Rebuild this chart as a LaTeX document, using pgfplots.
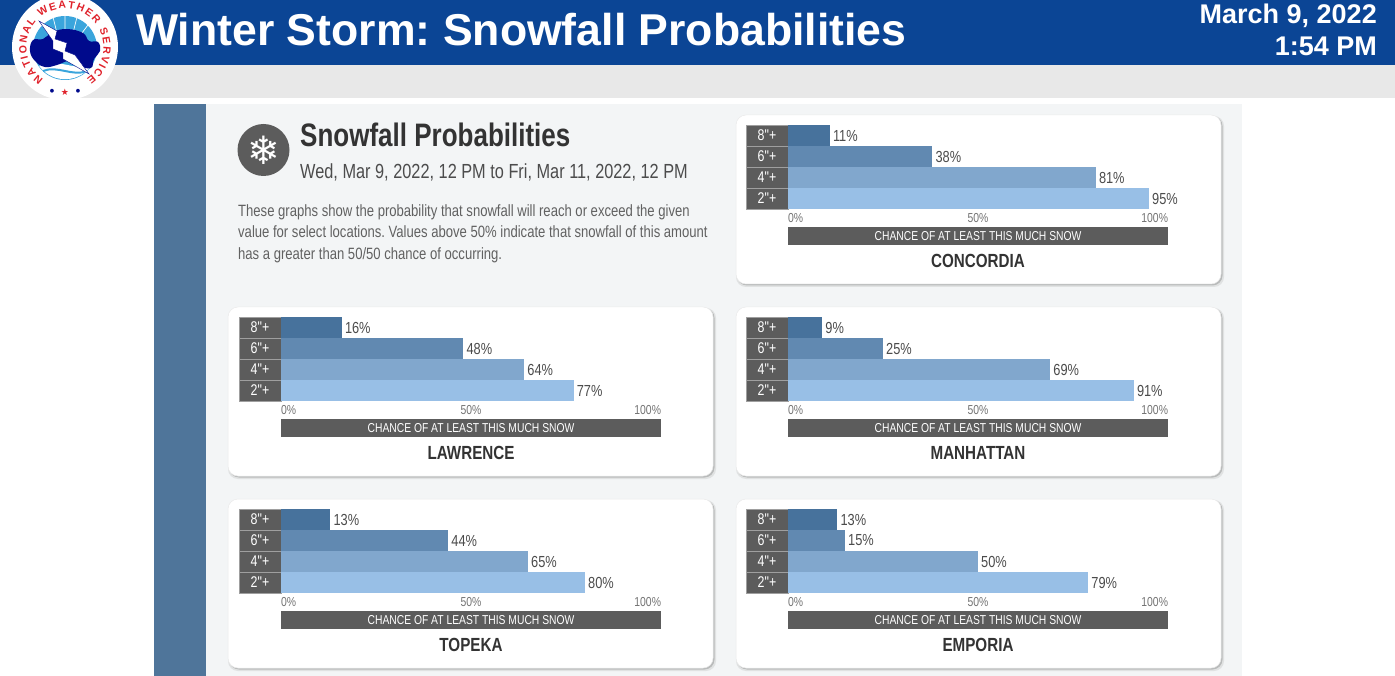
\documentclass[border=0pt]{standalone}
\usepackage{fontspec}
\setmainfont{Liberation Sans}
\newfontfamily\rb[FakeStretch=0.8]{Liberation Sans}
\newfontfamily\djv{DejaVu Sans}
\usepackage{pgfplots}
\pgfplotsset{compat=1.18}
\usetikzlibrary{decorations.text}
\definecolor{hdr}{HTML}{0B4595}
\definecolor{hdrgrey}{HTML}{E8E8E8}
\definecolor{strip}{HTML}{4F759A}
\definecolor{panel}{HTML}{F3F5F6}
\definecolor{boxgrey}{HTML}{5C5C5C}
\definecolor{cEight}{HTML}{47729C}
\definecolor{cSix}{HTML}{6189B1}
\definecolor{cFour}{HTML}{81A7CD}
\definecolor{cTwo}{HTML}{98BFE6}
\definecolor{nwsred}{HTML}{E0222B}
\definecolor{nwsdark}{HTML}{000A8C}
\definecolor{nwslight}{HTML}{3AA5DC}
\pgfplotsset{
  snowchart/.style={
    at={(#1)}, anchor=north west,
    scale only axis, width=380pt, height=84pt,
    xbar, bar width=21pt, bar shift=0pt,
    xmin=0, xmax=100, ymin=-0.5, ymax=3.5,
    ytick={0,1,2,3}, yticklabels={2"+,4"+,6"+,8"+},
    xtick={0,50,100},
    xticklabels={\makebox[0pt][l]{0\%},50\%,\makebox[0pt][r]{100\%}},
    axis line style={draw=none}, major tick length=0pt,
    tick style={draw=none},
    font=\rb,
    /pgf/number format/assume math mode=true,
    yticklabel style={font=\rb\fontsize{15.5}{15}\selectfont, text=white, fill=boxgrey, draw=gray!75!white, line width=0.3pt,
      minimum width=42pt, minimum height=21pt, inner sep=0pt, anchor=center, xshift=-21pt},
    xticklabel style={font=\rb\fontsize{13}{13}\selectfont, text=black!55, inner sep=0pt, anchor=north},
    xticklabel shift=4.5pt,
    xlabel={CHANCE OF AT LEAST THIS MUCH SNOW},
    xlabel style={at={(axis description cs:0.5,0)}, anchor=north, yshift=-18pt,
      fill=boxgrey, text=white, font=\rb\fontsize{12.9}{13}\selectfont,
      minimum width=380pt, minimum height=18pt, inner sep=0pt},
    title style={at={(axis description cs:0.5,0)}, anchor=center, yshift=-52pt,
      font=\rb\bfseries\fontsize{19}{19}\selectfont, text=black!80},
    point meta=x,
    nodes near coords={\pgfmathprintnumber{\pgfplotspointmeta}\%},
    nodes near coords align={horizontal},
    every node near coord/.append style={font=\rb\fontsize{16}{16}\selectfont, text=black!70, inner sep=3pt},
    clip=false,
  },
  b8/.style={fill=cEight, draw=none},
  b6/.style={fill=cSix, draw=none},
  b4/.style={fill=cFour, draw=none},
  b2/.style={fill=cTwo, draw=none},
}
\newcommand{\card}[2]{%
  \fill[black!45, opacity=.18, rounded corners=10pt] (#1+0,#2+1) rectangle ++(488,171);
  \fill[black!55, opacity=.35, rounded corners=10pt] (#1+1,#2+1) rectangle ++(485.5,169.5);
  \fill[white, draw=black!8, line width=.5pt, rounded corners=10pt] (#1,#2) rectangle ++(485,169);
}
\begin{document}
\frenchspacing
\begin{tikzpicture}[x=1pt,y=-1pt]
\path[use as bounding box] (0,0) rectangle (1395,676);
\clip (0,0) rectangle (1395,676);
\coordinate (pC) at (788,125);
\coordinate (pL) at (281,317);
\coordinate (pM) at (788,317);
\coordinate (pT) at (281,509);
\coordinate (pE) at (788,509);
% header
\fill[white] (0,0) rectangle (1395,676);
\fill[hdrgrey] (0,65) rectangle (1395,98);
\fill[hdr] (0,0) rectangle (1395,65);
\node[anchor=base west, inner sep=0, text=white, font=\bfseries\fontsize{44.6}{44}\selectfont] at (136,46) {Winter Storm: Snowfall Probabilities};
\node[anchor=base east, inner sep=0, text=white, font=\bfseries\fontsize{27}{27}\selectfont] at (1377,24) {March 9, 2022};
\node[anchor=base east, inner sep=0, text=white, font=\bfseries\fontsize{27}{27}\selectfont] at (1377,56) {1:54 PM};
% logo
\begin{scope}[shift={(65,47)}, y=1pt]
  \fill[white] (0,0) circle[radius=53pt];
  \fill[nwslight] (0,-1) circle[radius=32pt];
  \fill[white] (-26,-19) .. controls (-10,-10) and (10,-24) .. (26,-19) arc[start angle=-36, end angle=-144, radius=32pt] -- cycle;
  \draw[nwslight, line width=2pt] (-22,-24) .. controls (-8,-18) and (8,-30) .. (22,-24);
  \draw[white, line width=.7pt] (-12,30) -- (-8,14) (12,30) -- (8,14) (0,31) -- (0,14) (23,22) -- (14,10) (-23,22) -- (-14,10);
  \fill[nwsdark] plot[smooth cycle, tension=.7] coordinates {(-35,-4) (-32,7) (-22,8) (-12,15) (2,18) (18,14) (24,6) (33,5) (35,-4) (29,-12) (26,-21) (14,-19) (4,-14) (-8,-18) (-20,-20) (-30,-14)};
  \fill[white, draw=nwsdark, line width=.4pt] (-26,26) -- (-8,16) -- (-10,8) -- (2,4) -- (0,-4) -- (10,-8) -- (24,-27) -- (-2,-12) -- (-2,-6) -- (-12,-2) -- (-12,6) -- cycle;
  \path[decorate, decoration={text along path, text align={fit to path},
     text={|\bfseries\fontsize{10.5}{10.5}\selectfont\color{nwsred}|NATIONAL WEATHER SERVICE}}]
     (0,0) ++(236:38.5pt) arc[start angle=236, end angle=-56, radius=38.5pt];
  \node[text=nwsred, font=\djv\fontsize{9}{9}\selectfont, inner sep=0] at (0,-45) {★};
  \node[text=nwsdark, font=\djv\fontsize{5}{5}\selectfont, inner sep=0] at (-13,-44) {●};
  \node[text=nwsdark, font=\djv\fontsize{5}{5}\selectfont, inner sep=0] at (13,-44) {●};
\end{scope}
% panel
\fill[panel] (206,104) rectangle (1242,676);
\fill[strip] (154,104) rectangle (206,676);
\fill[boxgrey] (263.5,150) circle[radius=26pt];
\node[text=white, font=\djv\fontsize{39}{39}\selectfont, inner sep=0] at (263.5,150) {❄};
\node[anchor=base west, inner sep=0, text=black!80, font=\rb\bfseries\fontsize{32.5}{32}\selectfont] at (300,147) {Snowfall Probabilities};
\node[anchor=base west, inner sep=0, text=black!70, font=\rb\fontsize{20.4}{20}\selectfont] at (300,179) {Wed, Mar 9, 2022, 12 PM to Fri, Mar 11, 2022, 12 PM};
\node[anchor=base west, inner sep=0, text=black!62, font=\rb\fontsize{16.35}{16}\selectfont] at (238,216.5) {These graphs show the probability that snowfall will reach or exceed the given};
\node[anchor=base west, inner sep=0, text=black!62, font=\rb\fontsize{16.35}{16}\selectfont] at (238,237.5) {value for select locations. Values above 50\% indicate that snowfall of this amount};
\node[anchor=base west, inner sep=0, text=black!62, font=\rb\fontsize{16.35}{16}\selectfont] at (238,259.5) {has a greater than 50/50 chance of occurring.};
% cards
\card{736}{115}
\card{228}{307}
\card{736}{307}
\card{228}{499}
\card{736}{499}
% charts
\pgfplotsset{title style={yshift=-6pt}}
\begin{axis}[snowchart={pC}, title={CONCORDIA}]
\addplot[b2] coordinates {(95,0)};
\addplot[b4] coordinates {(81,1)};
\addplot[b6] coordinates {(38,2)};
\addplot[b8] coordinates {(11,3)};
\end{axis}
\begin{axis}[snowchart={pL}, title={LAWRENCE}]
\addplot[b2] coordinates {(77,0)};
\addplot[b4] coordinates {(64,1)};
\addplot[b6] coordinates {(48,2)};
\addplot[b8] coordinates {(16,3)};
\end{axis}
\begin{axis}[snowchart={pM}, title={MANHATTAN}]
\addplot[b2] coordinates {(91,0)};
\addplot[b4] coordinates {(69,1)};
\addplot[b6] coordinates {(25,2)};
\addplot[b8] coordinates {(9,3)};
\end{axis}
\begin{axis}[snowchart={pT}, title={TOPEKA}]
\addplot[b2] coordinates {(80,0)};
\addplot[b4] coordinates {(65,1)};
\addplot[b6] coordinates {(44,2)};
\addplot[b8] coordinates {(13,3)};
\end{axis}
\begin{axis}[snowchart={pE}, title={EMPORIA}]
\addplot[b2] coordinates {(79,0)};
\addplot[b4] coordinates {(50,1)};
\addplot[b6] coordinates {(15,2)};
\addplot[b8] coordinates {(13,3)};
\end{axis}
\end{tikzpicture}
\end{document}
